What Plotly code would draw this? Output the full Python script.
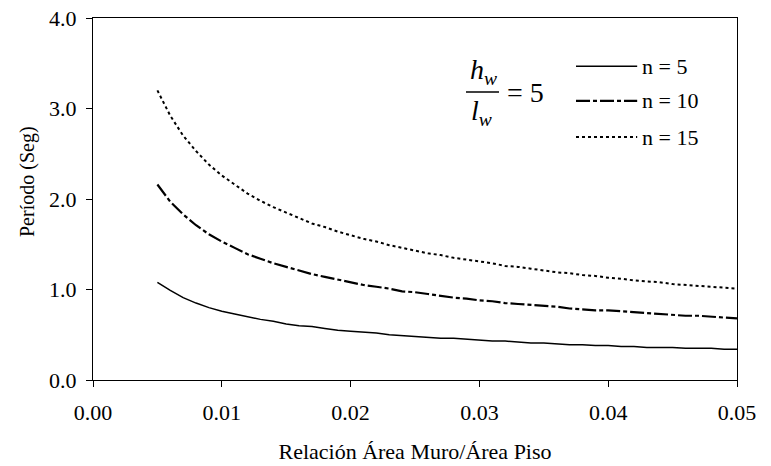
import plotly.graph_objects as go

# Data
x_ratio = [0.005, 0.006, 0.007, 0.008, 0.009, 0.010, 0.011, 0.012, 0.013, 0.014,
           0.015, 0.016, 0.017, 0.018, 0.019, 0.020, 0.021, 0.022, 0.023, 0.024,
           0.025, 0.026, 0.027, 0.028, 0.029, 0.030, 0.031, 0.032, 0.033, 0.034,
           0.035, 0.036, 0.037, 0.038, 0.039, 0.040, 0.041, 0.042, 0.043, 0.044,
           0.045, 0.046, 0.047, 0.048, 0.049, 0.050]

period_n5 = [1.08, 0.99, 0.91, 0.85, 0.80, 0.76, 0.73, 0.70, 0.67, 0.65,
             0.62, 0.60, 0.59, 0.57, 0.55, 0.54, 0.53, 0.52, 0.50, 0.49,
             0.48, 0.47, 0.46, 0.46, 0.45, 0.44, 0.43, 0.43, 0.42, 0.41,
             0.41, 0.40, 0.39, 0.39, 0.38, 0.38, 0.37, 0.37, 0.36, 0.36,
             0.36, 0.35, 0.35, 0.35, 0.34, 0.34]

period_n10 = [2.16, 1.97, 1.83, 1.71, 1.61, 1.53, 1.46, 1.39, 1.34, 1.29,
              1.25, 1.21, 1.17, 1.14, 1.11, 1.08, 1.05, 1.03, 1.01, 0.98,
              0.97, 0.95, 0.93, 0.91, 0.90, 0.88, 0.87, 0.85, 0.84, 0.83,
              0.82, 0.81, 0.79, 0.78, 0.77, 0.77, 0.76, 0.75, 0.74, 0.73,
              0.72, 0.71, 0.71, 0.70, 0.69, 0.68]

period_n15 = [3.20, 2.92, 2.70, 2.53, 2.38, 2.26, 2.16, 2.06, 1.98, 1.91,
              1.85, 1.79, 1.73, 1.69, 1.64, 1.60, 1.56, 1.53, 1.49, 1.46,
              1.43, 1.40, 1.38, 1.35, 1.33, 1.31, 1.29, 1.26, 1.25, 1.23,
              1.21, 1.19, 1.18, 1.16, 1.15, 1.13, 1.12, 1.10, 1.09, 1.08,
              1.06, 1.05, 1.04, 1.03, 1.02, 1.01]

series_names = ["n = 5", "n = 10", "n = 15"]
x_ticks = [0.00, 0.01, 0.02, 0.03, 0.04, 0.05]
y_ticks = [0.0, 1.0, 2.0, 3.0, 4.0]

FONT = "Liberation Serif"
styles = [
    dict(color="black", width=1.5, dash="solid"),
    dict(color="black", width=2.2, dash="14px,3px,4px,3px"),
    dict(color="black", width=2, dash="3px,3px"),
]

fig = go.Figure()
for name, ys, st in zip(series_names, [period_n5, period_n10, period_n15], styles):
    fig.add_trace(go.Scatter(x=x_ratio, y=ys, mode="lines", name=name,
                             line=st, showlegend=False))

# Custom legend (long line samples as in the reference)
leg_rows = [0.867, 0.771, 0.671]
for name, st, yy in zip(series_names, styles, leg_rows):
    fig.add_shape(type="line", xref="paper", yref="paper",
                  x0=0.750, x1=0.845, y0=yy, y1=yy, line=st)
    fig.add_annotation(xref="paper", yref="paper", x=0.849, y=yy,
                       text=name, showarrow=False, xanchor="left", yanchor="middle",
                       font=dict(family=FONT, size=22, color="black"))

# h_w / l_w = 5 label
bar_y = (380 - 92) / 362
fig.add_shape(type="line", xref="paper", yref="paper",
              x0=(466 - 93) / 644, x1=(499 - 93) / 644, y0=bar_y, y1=bar_y,
              line=dict(color="black", width=1.3))
fig.add_annotation(xref="paper", yref="paper", x=(483 - 93) / 644, y=bar_y + 0.003,
                   text="<i>h</i><sub><i>w</i></sub>", showarrow=False,
                   xanchor="center", yanchor="bottom",
                   font=dict(family=FONT, size=28, color="black"))
fig.add_annotation(xref="paper", yref="paper", x=(481 - 93) / 644, y=bar_y - 0.003,
                   text="<i>l</i><sub><i>w</i></sub>", showarrow=False,
                   xanchor="center", yanchor="top",
                   font=dict(family=FONT, size=28, color="black"))
fig.add_annotation(xref="paper", yref="paper", x=(505 - 93) / 644, y=bar_y,
                   text="= 5", showarrow=False, xanchor="left", yanchor="middle",
                   font=dict(family=FONT, size=28, color="black"))

# Y axis title (placed slightly above plot centre, as in the reference)
fig.add_annotation(xref="paper", yref="paper", x=(28 - 93) / 644, y=(380 - 182) / 362,
                   text="Período (Seg)", showarrow=False, textangle=-90,
                   xanchor="center", yanchor="middle",
                   font=dict(family=FONT, size=20, color="black"))

axis_common = dict(showline=True, linecolor="black", linewidth=1.3, mirror=True,
                   ticks="outside", ticklen=6, tickwidth=1.3, tickcolor="black",
                   showgrid=False, zeroline=False,
                   tickfont=dict(family=FONT, size=22, color="black"))

fig.update_xaxes(range=[0, 0.05], tickvals=x_ticks, tickformat=".2f",
                 ticklabelstandoff=6,
                 title=dict(text="Relación Área Muro/Área Piso", standoff=20,
                            font=dict(family=FONT, size=22, color="black")),
                 **axis_common)
fig.update_yaxes(range=[0, 4], tickvals=y_ticks, tickformat=".1f",
                 ticklabelstandoff=5,
                 **axis_common)

fig.update_layout(width=771, height=466, autosize=False,
                  margin=dict(l=93, r=34, t=18, b=86, autoexpand=False),
                  paper_bgcolor="white", plot_bgcolor="white",
                  font=dict(family=FONT, color="black"))

fig.write_html("out.html")
